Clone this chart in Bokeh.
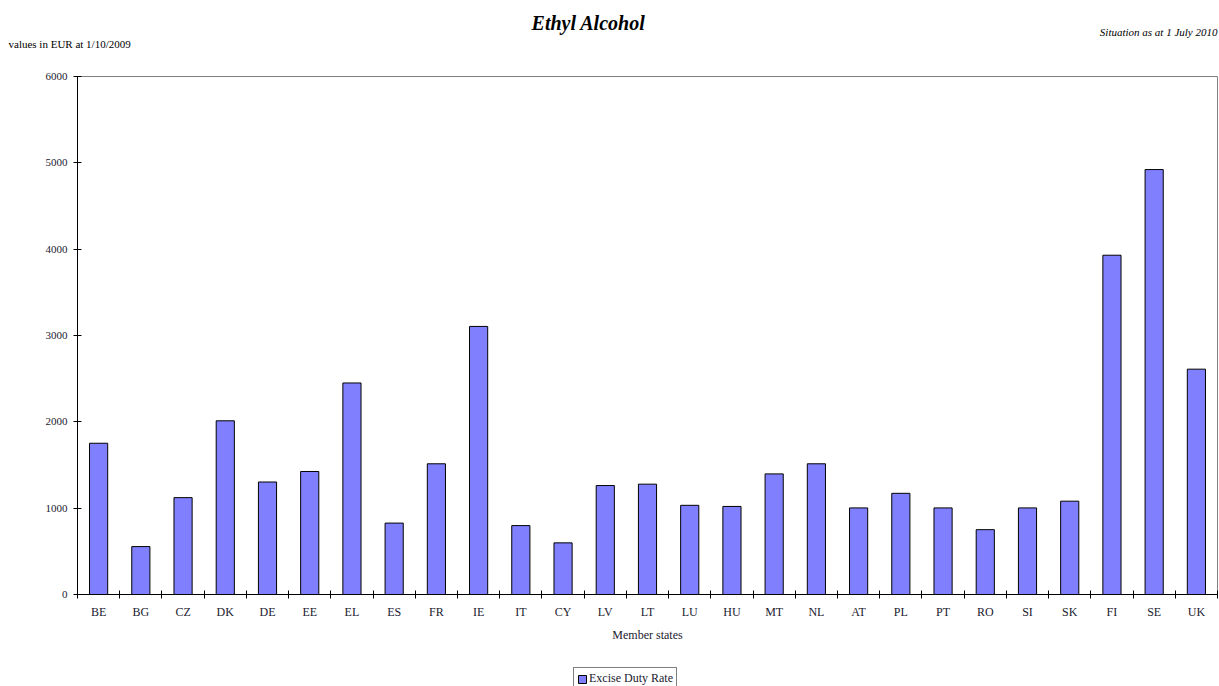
from bokeh.plotting import figure
from bokeh.layouts import column
from bokeh.models import (Range1d, FactorRange, CategoricalAxis, LinearAxis, FixedTicker,
                          Label, Legend, LegendItem, ColumnDataSource)
from bokeh.embed import file_html
from bokeh.resources import INLINE

# ---- data ----
states = ["BE", "BG", "CZ", "DK", "DE", "EE", "EL", "ES", "FR", "IE", "IT", "CY", "LV", "LT",
          "LU", "HU", "MT", "NL", "AT", "PL", "PT", "RO", "SI", "SK", "FI", "SE", "UK"]
rates = [1752, 555, 1122, 2012, 1303, 1425, 2450, 827, 1514, 3105, 798, 598, 1262, 1278,
         1033, 1020, 1397, 1514, 1003, 1172, 1003, 751, 1003, 1081, 3930, 4922, 2610]
y_ticks = [0, 1000, 2000, 3000, 4000, 5000, 6000]
series_name = "Excise Duty Rate"
title_text = "Ethyl Alcohol"
left_note = "values in EUR at 1/10/2009"
right_note = "Situation as at 1 July 2010"
x_title = "Member states"

FONT = "Liberation Serif"
TXT = "#1a1a2e"
BAR_FILL = "#8080FF"
W = 1219
HEAD_H = 52
LEG_H = 22
MAIN_H = 686 - HEAD_H - LEG_H

src = ColumnDataSource(data=dict(state=states, rate=rates))


def strip(height, x_range, y_range):
    f = figure(width=W, height=height, x_range=x_range, y_range=y_range,
               output_backend="svg", toolbar_location=None,
               x_axis_location=None, y_axis_location=None, min_border=0)
    f.xgrid.grid_line_color = None
    f.ygrid.grid_line_color = None
    f.outline_line_color = None
    f.frame_align = False
    return f


# ---- header ----
head = strip(HEAD_H, Range1d(0, W), Range1d(HEAD_H, 0))
head.add_layout(Label(x=588, y=22, text=title_text, text_align="center", text_baseline="middle",
                      text_font=FONT, text_font_size="20px", text_font_style="bold italic",
                      text_color="black"))
head.add_layout(Label(x=8, y=43, text=left_note, text_align="left", text_baseline="middle",
                      text_font=FONT, text_font_size="11px", text_color="black"))
head.add_layout(Label(x=1217, y=31, text=right_note, text_align="right", text_baseline="middle",
                      text_font=FONT, text_font_size="11px", text_font_style="italic",
                      text_color="black"))

# ---- main chart ----
xr = FactorRange(*states, range_padding=0)
p = figure(width=W, height=MAIN_H, x_range=xr, y_range=Range1d(0, 6000),
           output_backend="svg", toolbar_location=None,
           x_axis_location=None, y_axis_location=None,
           min_border_left=77, min_border_right=2, min_border_top=76 - HEAD_H,
           min_border_bottom=MAIN_H - (594 - HEAD_H))
p.xgrid.grid_line_color = None
p.ygrid.grid_line_color = None
p.outline_line_color = "#808080"
p.outline_line_width = 1

yax = LinearAxis(ticker=FixedTicker(ticks=y_ticks),
                 major_tick_in=4, major_tick_out=4, minor_tick_line_color=None,
                 axis_line_color="black", major_tick_line_color="black",
                 major_label_text_font=FONT, major_label_text_font_size="11px",
                 major_label_text_color=TXT, major_label_standoff=6)
p.add_layout(yax, "left")

# tick marks between categories (no labels)
tick_axis = LinearAxis(ticker=FixedTicker(ticks=list(range(len(states) + 1))),
                       major_tick_in=4, major_tick_out=4, minor_tick_line_color=None,
                       axis_line_color="black", major_tick_line_color="black",
                       major_label_text_font_size="0px", major_label_text_color=None,
                       major_label_standoff=0)
p.add_layout(tick_axis, "below")

# category labels
lab_axis = CategoricalAxis(major_tick_line_color=None, major_tick_in=0, major_tick_out=0,
                           axis_line_color=None,
                           major_label_text_font=FONT, major_label_text_font_size="12px",
                           major_label_text_color=TXT, major_label_standoff=6,
                           axis_label=x_title, axis_label_text_font=FONT,
                           axis_label_text_font_size="12px", axis_label_text_font_style="normal",
                           axis_label_text_color=TXT, axis_label_standoff=6)
p.add_layout(lab_axis, "below")

bar_style = dict(width=0.43, fill_color=BAR_FILL, line_color="black", line_width=1)
bars = p.vbar(x="state", top="rate", source=src, **bar_style)

# ---- legend strip (key of the same series; its bars are hidden here) ----
leg = strip(LEG_H, xr, Range1d(-2, -1))
leg_r = leg.vbar(x="state", top="rate", source=src, visible=False, **bar_style)
legend = Legend(items=[LegendItem(label=series_name, renderers=[leg_r])],
                location=(573, -4), orientation="horizontal",
                border_line_color="black", border_line_width=1,
                background_fill_color="white", background_fill_alpha=1,
                inactive_fill_alpha=0,
                label_text_font=FONT, label_text_font_size="12px", label_text_color=TXT,
                glyph_width=10, glyph_height=10, label_standoff=2,
                padding=3, spacing=0, margin=0, label_height=12)
leg.add_layout(legend)

layout = column(head, p, leg, spacing=0)
open("out.html", "w").write(file_html(layout, INLINE))
